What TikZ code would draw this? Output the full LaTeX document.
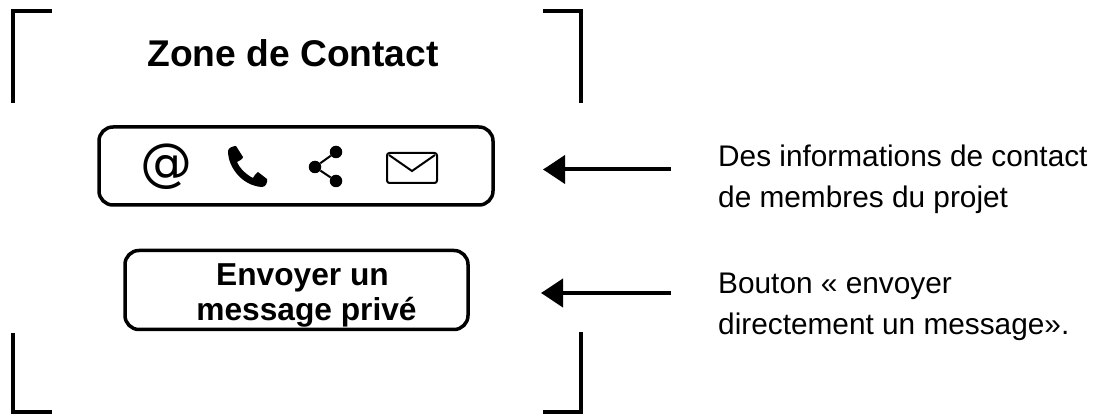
\documentclass[tikz,border=0pt]{standalone}
\usepackage{fontspec}
\setmainfont{Liberation Sans}
\newfontfamily\iconfont{DejaVu Sans}
\usetikzlibrary{arrows.meta}
\tikzset{
  corner/.style={line width=4pt,miter limit=10},
  panel/.style={draw,line width=3.5pt,rounded corners=14pt,inner sep=0pt,align=center},
  pointer/.style={line width=4pt,-{Triangle[length=22pt,width=28pt]}},
  note/.style={anchor=west,align=left,inner sep=0pt,font=\fontsize{29.8}{41}\selectfont},
  iconline/.style={line width=2pt},
  dot/.style={fill,circle,inner sep=0pt,minimum size=12.5pt}
}
\begin{document}
\begin{tikzpicture}[x=1pt,y=-1pt]
\useasboundingbox (0,0) rectangle (1120,414);
% corner marks
\draw[corner] (13.3,103) -- (13.3,11) -- (51.5,11);
\draw[corner] (543,11) -- (581,11) -- (581,103);
\draw[corner] (13.3,333) -- (13.3,412) -- (51.5,412);
\draw[corner] (543,412) -- (581,412) -- (581,332);
\node[inner sep=0pt,font=\bfseries\fontsize{37.2}{44}\selectfont] (title) at (293,53) {Zone de Contact};
% contact panel
\node[panel,minimum width=394pt,minimum height=78pt] (contact) at (296,166) {};
\node[panel,minimum width=343pt,minimum height=79pt] (send) at (296.5,290) {};
\node[inner sep=0pt,align=center,font=\bfseries\fontsize{31.7}{35}\selectfont] (sendtext) at (296.5,295)
  {\hspace{12pt}Envoyer un\\\hspace{20pt}message privé};
% @ icon
\node[inner sep=0pt,font=\iconfont\fontsize{52}{52}\selectfont] (at) at (166,167) {@};
% phone icon
\fill (228,151) .. controls (228,148) and (233,146) .. (236,146) -- (243,157) .. controls (243,159) and (239,161) .. (237,162)
  .. controls (240,169) and (247,175) .. (253,178) .. controls (254,176) and (256,173) .. (258,172) -- (267,179)
  .. controls (268,183) and (265,187) .. (262,187) .. controls (243,186) and (228,168) .. (228,151) -- cycle;
% share icon
\node[dot] (s0) at (315,167) {};
\node[dot] (s1) at (336,152) {};
\node[dot] (s2) at (336,181) {};
\draw[iconline] (s1) -- (s0) -- (s2);
% envelope icon
\node[draw,line width=2pt,rounded corners=2.5pt,minimum width=50pt,minimum height=30pt,inner sep=0pt] (mail) at (412,168) {};
\coordinate (m1) at (389,155);
\coordinate (m2) at (412,171);
\coordinate (m3) at (435,155);
\draw[iconline] (m1) -- (m2) -- (m3);
% notes
\node[note] (n1) at (718,179) {Des informations de contact\\de membres du projet};
\node[note] (n2) at (718,307) {Bouton « envoyer\\directement un message».};
\coordinate (a1s) at (671,169.5);
\coordinate (a1e) at (543,169.5);
\coordinate (a2s) at (671,293);
\coordinate (a2e) at (541,293);
\draw[pointer] (a1s) -- (a1e);
\draw[pointer] (a2s) -- (a2e);
\end{tikzpicture}
\end{document}
